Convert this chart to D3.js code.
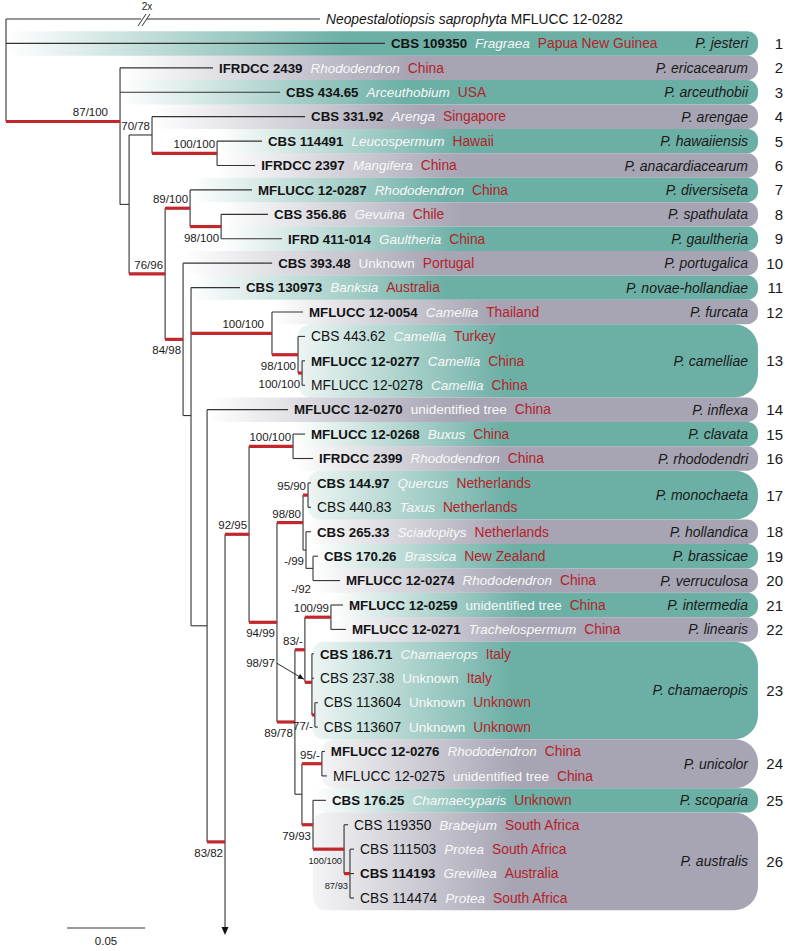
<!DOCTYPE html>
<html><head><meta charset="utf-8">
<script src="https://cdn.jsdelivr.net/npm/d3@7"></script>
<style>
html,body{margin:0;padding:0;background:#fff;}
svg{display:block;font-family:"Liberation Sans",Arial,Helvetica,sans-serif;}
</style></head><body>
<svg id="chart" width="785" height="951"></svg>
<script>
// ================= DATA =================
const outgroupSpecies = "Neopestalotiopsis saprophyta";
const strains = ["MFLUCC 12-0282","CBS 109350","IFRDCC 2439","CBS 434.65","CBS 331.92","CBS 114491","IFRDCC 2397",
 "MFLUCC 12-0287","CBS 356.86","IFRD 411-014","CBS 393.48","CBS 130973","MFLUCC 12-0054","CBS 443.62","MFLUCC 12-0277",
 "MFLUCC 12-0278","MFLUCC 12-0270","MFLUCC 12-0268","IFRDCC 2399","CBS 144.97","CBS 440.83","CBS 265.33","CBS 170.26",
 "MFLUCC 12-0274","MFLUCC 12-0259","MFLUCC 12-0271","CBS 186.71","CBS 237.38","CBS 113604","CBS 113607","MFLUCC 12-0276",
 "MFLUCC 12-0275","CBS 176.25","CBS 119350","CBS 111503","CBS 114193","CBS 114474"];
const hosts = ["","Fragraea","Rhododendron","Arceuthobium","Arenga","Leucospermum","Mangifera","Rhododendron","Gevuina",
 "Gaultheria","Unknown","Banksia","Camellia","Camellia","Camellia","Camellia","unidentified tree","Buxus","Rhododendron",
 "Quercus","Taxus","Sciadopitys","Brassica","Rhododendron","unidentified tree","Trachelospermum","Chamaerops","Unknown",
 "Unknown","Unknown","Rhododendron","unidentified tree","Chamaecyparis","Brabejum","Protea","Grevillea","Protea"];
const countries = ["","Papua New Guinea","China","USA","Singapore","Hawaii","China","China","Chile","China","Portugal",
 "Australia","Thailand","Turkey","China","China","China","China","China","Netherlands","Netherlands","Netherlands",
 "New Zealand","China","China","China","Italy","Italy","Unknown","Unknown","China","China","Unknown","South Africa",
 "South Africa","Australia","South Africa"];
const typeStrains = [0,1,1,1,1,1,1,1,1,1,1,1,1,0,1,0,1,1,1,1,0,1,1,1,1,1,1,0,0,0,1,0,1,0,0,1,0];

// tree: [node id, parent id, branch length (subst./site), support ML/BI]
const treeNodes = [
 ["root","",0,""],
 ["MFLUCC 12-0282","root",0.2013,""],
 ["CBS 109350","root",0.2429,""],
 ["n87","root",0.0731,"87/100"],
 ["IFRDCC 2439","n87",0.0596,""],
 ["CBS 434.65","n87",0.1026,""],
 ["nB","n87",0.0058,""],
 ["n70","nB",0.0147,"70/78"],
 ["CBS 331.92","n70",0.0981,""],
 ["n100a","n70",0.0417,"100/100"],
 ["CBS 114491","n100a",0.0288,""],
 ["IFRDCC 2397","n100a",0.0244,""],
 ["n76","nB",0.0231,"76/96"],
 ["n89","n76",0.0160,"89/100"],
 ["MFLUCC 12-0287","n89",0.0397,""],
 ["n98a","n89",0.0199,"98/100"],
 ["CBS 356.86","n98a",0.0301,""],
 ["IFRD 411-014","n98a",0.0391,""],
 ["n84","n76",0.0115,"84/98"],
 ["CBS 393.48","n84",0.0571,""],
 ["nI","n84",0.0051,""],
 ["CBS 130973","nI",0.0314,""],
 ["n100b","nI",0.0519,"100/100"],
 ["MFLUCC 12-0054","n100b",0.0199,""],
 ["n98b","n100b",0.0167,"98/100"],
 ["CBS 443.62","n98b",0.0045,""],
 ["n100c","n98b",0.0026,"100/100"],
 ["MFLUCC 12-0277","n100c",0.0019,""],
 ["MFLUCC 12-0278","n100c",0.0019,""],
 ["nK","nI",0.0103,""],
 ["MFLUCC 12-0270","nK",0.0519,""],
 ["n83","nK",0.0115,"83/82"],
 ["continued","n83",0,""],
 ["n92","n83",0.0154,"92/95"],
 ["n100d","n92",0.0282,"100/100"],
 ["MFLUCC 12-0268","n100d",0.0077,""],
 ["IFRDCC 2399","n100d",0.0128,""],
 ["n94","n92",0.0179,"94/99"],
 ["n98c","n94",0.0167,"98/80"],
 ["n95a","n98c",0.0032,"95/90"],
 ["CBS 144.97","n95a",0.0019,""],
 ["CBS 440.83","n95a",0.0019,""],
 ["nT","n98c",0.0019,"-/99"],
 ["CBS 265.33","nT",0.0032,""],
 ["nU","nT",0.0045,"-/92"],
 ["CBS 170.26","nU",0.0032,""],
 ["MFLUCC 12-0274","nU",0.0173,""],
 ["n89b","n94",0.0115,"89/78"],
 ["n83b","n89b",0.0064,"83/-"],
 ["n100e","n83b",0.0167,"100/99"],
 ["MFLUCC 12-0259","n100e",0.0077,""],
 ["MFLUCC 12-0271","n100e",0.0096,""],
 ["n98d","n83b",0.0045,"98/97"],
 ["CBS 186.71","n98d",0.0013,""],
 ["CBS 237.38","n98d",0.0013,""],
 ["n77","n98d",0.0019,"77/-"],
 ["CBS 113604","n77",0.0019,""],
 ["CBS 113607","n77",0.0019,""],
 ["nZ","n89b",0.0045,""],
 ["n95b","nZ",0.0128,"95/-"],
 ["MFLUCC 12-0276","n95b",0.0019,""],
 ["MFLUCC 12-0275","n95b",0.0032,""],
 ["n79","nZ",0.0071,"79/93"],
 ["CBS 176.25","n79",0.0083,""],
 ["n100f","n79",0.0199,"100/100"],
 ["CBS 119350","n100f",0.0026,""],
 ["n87b","n100f",0.0038,"87/93"],
 ["CBS 111503","n87b",0.0026,""],
 ["CBS 114193","n87b",0.0026,""],
 ["CBS 114474","n87b",0.0026,""]
];
const continuedRow = 46.3; // the clade continuing below the figure (arrow)

// clades: [species, number, first row, last row, node where the band starts]
const clades = [
 ["P. jesteri",1,1,1,"root"],["P. ericacearum",2,2,2,"n87"],["P. arceuthobii",3,3,3,"n87"],
 ["P. arengae",4,4,4,"n70"],["P. hawaiiensis",5,5,5,"n100a"],["P. anacardiacearum",6,6,6,"n100a"],
 ["P. diversiseta",7,7,7,"n89"],["P. spathulata",8,8,8,"n98a"],["P. gaultheria",9,9,9,"n98a"],
 ["P. portugalica",10,10,10,"n84"],["P. novae-hollandiae",11,11,11,"nI"],["P. furcata",12,12,12,"n100b"],
 ["P. camelliae",13,13,15,"n98b"],["P. inflexa",14,16,16,"nK"],["P. clavata",15,17,17,"n100d"],
 ["P. rhododendri",16,18,18,"n100d"],["P. monochaeta",17,19,20,"n95a"],["P. hollandica",18,21,21,"nT"],
 ["P. brassicae",19,22,22,"nU"],["P. verruculosa",20,23,23,"nU"],["P. intermedia",21,24,24,"n100e"],
 ["P. linearis",22,25,25,"n100e"],["P. chamaeropis",23,26,29,"n98d"],["P. unicolor",24,30,31,"n95b"],
 ["P. scoparia",25,32,32,"n79"],["P. australis",26,33,36,"n79"]
];
const scaleBarValue = 0.05;

// ================= DRAW =================
const svg = d3.select("#chart");
const xScale = d3.scaleLinear().domain([0, 0.05]).range([6, 84]);
const yScale = d3.scaleLinear().domain([0, 36]).range([19, 898]);
const rowH = yScale(1) - yScale(0);
const TEAL = "#6cafa5", GREY = "#a7a4b3", RED = "#c1272d", LINE = "#333";
const bandRight = 758;

const root = d3.stratify().id(d => d[0]).parentId(d => d[1])(treeNodes);
root.eachBefore(n => { n.len = (n.parent ? n.parent.len : 0) + n.data[2]; n.px = xScale(n.len); });
const rowOf = new Map(strains.map((s, i) => [s, i]));
root.eachAfter(n => {
  if (n.children) n.py = d3.mean(n.children, c => c.py);
  else n.py = yScale(n.id === "continued" ? continuedRow : rowOf.get(n.id));
});
const byId = new Map(root.descendants().map(n => [n.id, n]));

// ---- bands ----
const defs = svg.append("defs");
const gBands = svg.append("g");
clades.forEach((c, i) => {
  const [name, num, r0, r1, anchor] = c;
  const col = num % 2 ? TEAL : GREY;
  const x0 = byId.get(anchor).px, x1 = bandRight;
  const y0 = yScale(r0) - rowH / 2, y1 = yScale(r1) + rowH / 2;
  const h = y1 - y0;
  const multi = r1 > r0;
  const gid = "bg" + i;
  const gr = defs.append("linearGradient").attr("id", gid).attr("x1", 0).attr("x2", 1).attr("y1", 0).attr("y2", 0);
  gr.append("stop").attr("offset", 0).attr("stop-color", col).attr("stop-opacity", multi ? 0.12 : 0.0);
  gr.append("stop").attr("offset", 0.45).attr("stop-color", col).attr("stop-opacity", 1);
  gr.append("stop").attr("offset", 1).attr("stop-color", col).attr("stop-opacity", 1);
  const rr = Math.min(h / 2 - 1.5, 24), rl = Math.min(h / 2, 12);
  const p = `M${x0 + rl},${y0} H${x1 - rr} A${rr},${rr} 0 0 1 ${x1},${y0 + rr} V${y1 - rr} A${rr},${rr} 0 0 1 ${x1 - rr},${y1}` +
            ` H${x0 + rl} A${rl},${rl} 0 0 1 ${x0},${y1 - rl} V${y0 + rl} A${rl},${rl} 0 0 1 ${x0 + rl},${y0} Z`;
  gBands.append("path").attr("d", p).attr("fill", `url(#${gid})`);
  const cy = (y0 + y1) / 2;
  gBands.append("text").attr("x", 748).attr("y", cy + 5).attr("text-anchor", "end")
    .attr("font-size", 14).attr("font-style", "italic").attr("fill", "#1a1a1a").text(name);
  gBands.append("text").attr("x", 783).attr("y", cy + 5.5).attr("text-anchor", "end")
    .attr("font-size", 15).attr("fill", "#1a1a1a").text(num);
});

// ---- tree lines ----
const gTree = svg.append("g").attr("fill", "none");
const arrowEndY = 935;
root.descendants().forEach(n => {
  if (n.children) {
    const ys = n.children.map(c => c.py);
    let top = d3.min(ys), bot = d3.max(ys);
    if (n.children.some(c => c.id === "continued")) bot = arrowEndY - 6;
    gTree.append("line").attr("x1", n.px).attr("x2", n.px).attr("y1", top).attr("y2", bot)
      .attr("stroke", LINE).attr("stroke-width", 1.1);
  }
  if (n.parent && n.id !== "continued") {
    gTree.append("line").attr("x1", n.parent.px).attr("x2", n.px).attr("y1", n.py).attr("y2", n.py)
      .attr("stroke", LINE).attr("stroke-width", 1.1);
  }
});
// arrowhead for continued clade
const nCont = byId.get("continued");
gTree.append("path").attr("d", `M${nCont.px - 3.5},${arrowEndY - 8} L${nCont.px + 3.5},${arrowEndY - 8} L${nCont.px},${arrowEndY} Z`)
  .attr("fill", "#111");

// supported branches (ML >= 75) in red
const supported = n => { const m = parseInt(n.data[3]); return !isNaN(m) && m >= 75; };
root.descendants().filter(n => n.parent && supported(n)).forEach(n => {
  gTree.append("line").attr("x1", n.parent.px).attr("x2", n.px).attr("y1", n.py).attr("y2", n.py)
    .attr("stroke", RED).attr("stroke-width", 3.2);
});

// broken outgroup branch
const og = byId.get("MFLUCC 12-0282");
const bx = 144;
gTree.append("rect").attr("x", bx - 3).attr("y", og.py - 2).attr("width", 6).attr("height", 4).attr("fill", "#fff");
[[-6, -2], [-2, 2]].forEach(([a, b]) => {
  gTree.append("line").attr("x1", bx + a).attr("y1", og.py + 7).attr("x2", bx + b + 4).attr("y2", og.py - 5)
    .attr("stroke", LINE).attr("stroke-width", 1);
});
svg.append("text").attr("x", bx + 3).attr("y", 10).attr("text-anchor", "middle").attr("font-size", 10)
  .attr("fill", "#222").text("2x");

// ---- support labels ----
const below = new Set(["n98a","n84","n98b","n100c","nT","n94","n89b","n77","n79","n100f","n87b","n83"]);
const small = new Set(["n100f","n87b"]);
const nudge = {n87: -10, n100b: -6};
const gSup = svg.append("g").attr("fill", "#1a1a1a");
root.descendants().filter(n => n.data[3] && n.id !== "n98d").forEach(n => {
  let y;
  if (n.id === "nU") y = d3.max(n.children, c => c.py) + 12;
  else y = below.has(n.id) ? n.py + 15 : n.py - 5;
  gSup.append("text").attr("x", n.px - 2 + (nudge[n.id] || 0)).attr("y", y).attr("text-anchor", "end")
    .attr("font-size", small.has(n.id) ? 9.3 : 11.5).text(n.data[3]);
});
// label with pointer
const n98d = byId.get("n98d");
gSup.append("text").attr("x", 275).attr("y", n98d.py - 15).attr("text-anchor", "end").attr("font-size", 11.5).text(n98d.data[3]);
const ax0 = 277, ay0 = n98d.py - 19, ax1 = n98d.px - 8, ay1 = n98d.py - 3;
gSup.append("line").attr("x1", ax0).attr("y1", ay0).attr("x2", ax1).attr("y2", ay1).attr("stroke", "#111").attr("stroke-width", 0.9);
const ang = Math.atan2(ay1 - ay0, ax1 - ax0);
const ah = 6, aw = 2.6;
gSup.append("path").attr("d", `M${ax1},${ay1} L${ax1 - ah * Math.cos(ang) + aw * Math.sin(ang)},${ay1 - ah * Math.sin(ang) - aw * Math.cos(ang)} L${ax1 - ah * Math.cos(ang) - aw * Math.sin(ang)},${ay1 - ah * Math.sin(ang) + aw * Math.cos(ang)} Z`).attr("fill", "#111");

// ---- leaf labels ----
const gLab = svg.append("g");
root.leaves().filter(n => n.id !== "continued").forEach(n => {
  const i = rowOf.get(n.id);
  const t = gLab.append("text").attr("x", n.px + 6).attr("y", n.py + 4.8);
  if (i === 0) {
    t.append("tspan").attr("font-style", "italic").attr("font-size", 13.8).attr("fill", "#141414").text(outgroupSpecies);
    t.append("tspan").attr("font-size", 13.8).attr("fill", "#141414").text(" " + strains[i]);
    return;
  }
  const bold = typeStrains[i] === 1;
  t.append("tspan").attr("font-weight", bold ? "bold" : "normal").attr("font-size", bold ? 13.3 : 13.8)
    .attr("fill", "#141414").text(strains[i]);
  const h = hosts[i];
  const ital = !(h === "Unknown" || h === "unidentified tree");
  t.append("tspan").attr("dx", 8).attr("font-size", 13.5).attr("font-style", ital ? "italic" : "normal")
    .attr("fill", "#f8f8f8").text(h);
  t.append("tspan").attr("dx", 8).attr("font-size", 13.8).attr("fill", "#b3232b").text(countries[i]);
});

// ---- scale bar ----
const sbx = 67, sby = 928;
const sbLen = xScale(scaleBarValue) - xScale(0);
svg.append("line").attr("x1", sbx).attr("x2", sbx + sbLen).attr("y1", sby).attr("y2", sby).attr("stroke", LINE).attr("stroke-width", 1.1);
svg.append("text").attr("x", sbx + sbLen / 2).attr("y", sby + 17).attr("text-anchor", "middle").attr("font-size", 11.5)
  .attr("fill", "#1a1a1a").text(scaleBarValue.toFixed(2));
</script>
</body></html>
